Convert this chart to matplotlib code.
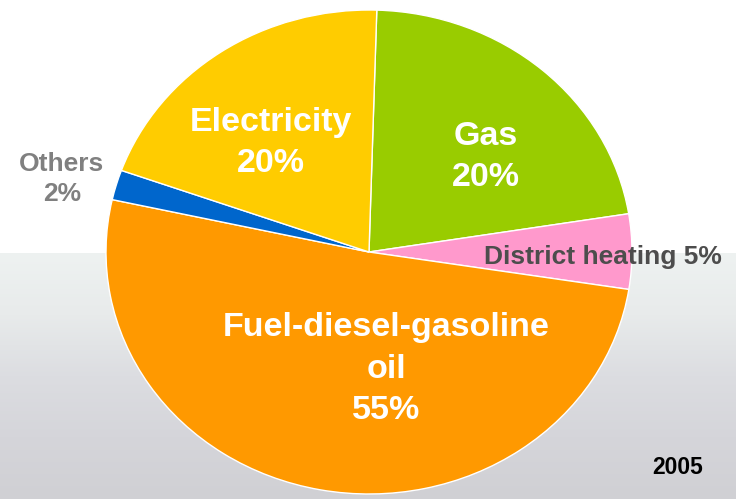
import numpy as np
import matplotlib
matplotlib.use("Agg")
import matplotlib.pyplot as plt
from matplotlib.colors import LinearSegmentedColormap

# Slice data (clockwise from top)
categories = ["Gas", "District heating", "Fuel-diesel-gasoline oil", "Others", "Electricity"]
shares = [22, 5, 51, 2, 20]
label_texts = ["Gas\n20%", "District heating 5%", "Fuel-diesel-gasoline\noil\n55%", "Others\n2%", "Electricity\n20%"]
colors = ["#99CC00", "#FF99CC", "#FF9900", "#0066CC", "#FFCC00"]
year_label = "2005"

W, H = 736, 499
fig = plt.figure(figsize=(W / 100, H / 100), dpi=100)
fig.patch.set_facecolor("white")

# background photo-like gradient in lower part
bg = fig.add_axes([0, 0, 1, (H - 253) / H])
bg.set_axis_off()
cmap = LinearSegmentedColormap.from_list(
    "bg", ["#EEF2F1", "#E8EBEB", "#DCDDE1", "#D5D5DA", "#D0D0D4"])
grad = np.linspace(0, 1, 256).reshape(-1, 1)
bg.imshow(grad, aspect="auto", cmap=cmap, extent=[0, 1, 0, 1], origin="upper")

# pie axes fitted to the ellipse's bounding box
left, right, top, bottom = 106, 632, 10, 494
ax = fig.add_axes([left / W, (H - bottom) / H, (right - left) / W, (bottom - top) / H])
ax.pie(shares, colors=colors, startangle=88.3, counterclock=False,
       wedgeprops=dict(edgecolor="white", linewidth=1.0))
ax.set_aspect("auto")
ax.set_xlim(-1, 1)
ax.set_ylim(-1, 1)
ax.set_axis_off()

fam = ["Liberation Sans", "DejaVu Sans"]

def ptext(x, y, s, size, color, ls=1.2):
    fig.text(x / W, 1 - y / H, s, fontsize=size, color=color, fontweight="bold",
             family=fam, ha="center", va="center", linespacing=ls)

ptext(271, 143, label_texts[4], 24.5, "white", 1.45)
ptext(486, 157, label_texts[0], 24.5, "white", 1.45)
ptext(386, 369, label_texts[2], 24.5, "white", 1.45)
ptext(62, 179, label_texts[3], 19, "#808080", 1.35)
ptext(603, 257, label_texts[1], 19, "#4D4D4D")
ptext(678, 467, year_label, 16.5, "black")

fig.savefig("out.png", dpi=100)
